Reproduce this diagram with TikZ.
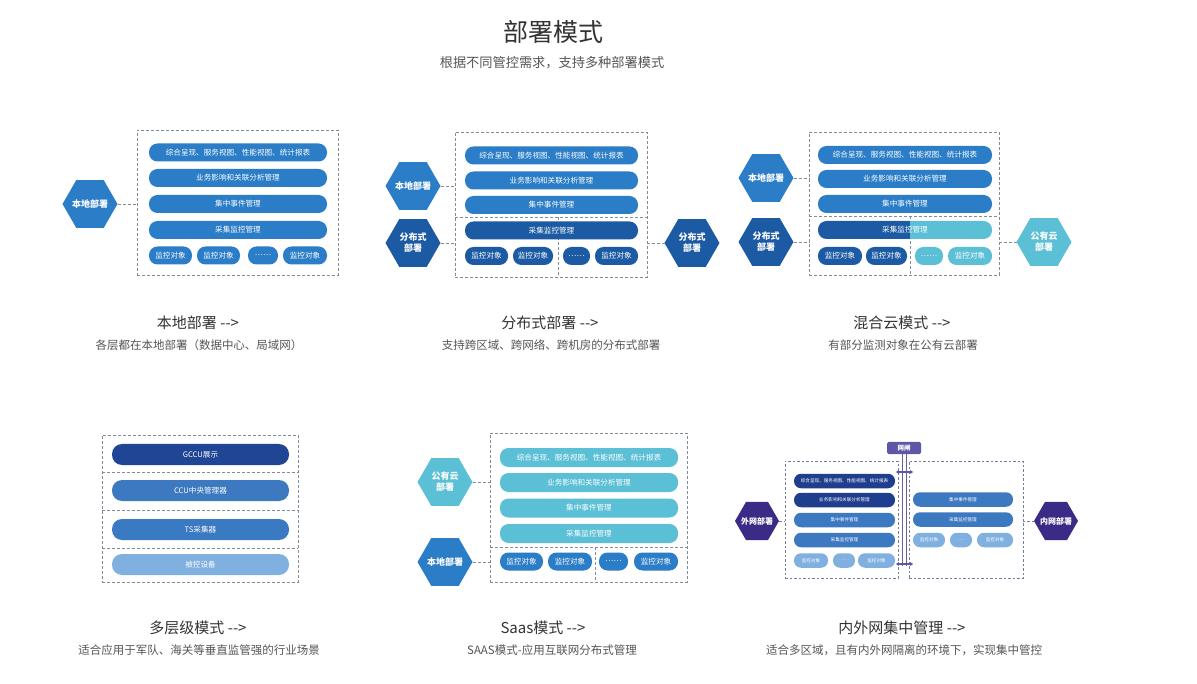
\documentclass[tikz,border=0pt]{standalone}
\usepackage{fontspec}
\setmainfont{Noto Sans CJK SC}
\usetikzlibrary{shapes.geometric,arrows.meta}
\definecolor{cblue}{HTML}{2A7DC6}
\definecolor{cdark}{HTML}{1C5AA3}
\definecolor{ccyan}{HTML}{5BBFD6}
\definecolor{cnavy}{HTML}{1F3F8E}
\definecolor{cmid}{HTML}{3C79C1}
\definecolor{clight}{HTML}{80B0E0}
\definecolor{cpurple}{HTML}{3B2A86}
\definecolor{cgate}{HTML}{5E57A8}
\definecolor{cdash}{HTML}{7F8C99}
\definecolor{cpdash}{HTML}{7A7A9A}
\definecolor{ctitle}{HTML}{333333}
\definecolor{csub}{HTML}{555555}
\tikzset{
  dbox/.style={draw=cdash, dash pattern=on 3pt off 2pt, line width=0.8pt, inner sep=0},
  dline/.style={draw=cdash, dash pattern=on 3pt off 2pt, line width=0.8pt},
  pbox/.style={draw=cpdash, dash pattern=on 2.5pt off 2pt, line width=0.7pt, inner sep=0},
  pline/.style={draw=cpdash, dash pattern=on 2.5pt off 2pt, line width=0.7pt},
  bar/.style={rectangle, rounded corners=8.5pt, inner sep=0, text=white, font=\fontsize{7.6}{8}\selectfont, minimum height=18},
  lbar/.style={rectangle, rounded corners=10pt, inner sep=0, text=white, font=\fontsize{7.6}{8}\selectfont, minimum height=21},
  sbar/.style={rectangle, rounded corners=7pt, inner sep=0, text=white, font=\fontsize{4.6}{5}\selectfont, minimum height=14.5},
  bartext/.style={inner sep=0, text=white, font=\fontsize{7.6}{8}\selectfont},
  hexa/.style={regular polygon, regular polygon sides=6, minimum size=55, inner sep=0, outer sep=0},
  hexlabel/.style={text=white, font=\bfseries\fontsize{9}{11}\selectfont, align=center, inner sep=0},
  shexa/.style={regular polygon, regular polygon sides=6, minimum size=44, inner sep=0, outer sep=0, fill=cpurple},
  shexlabel/.style={text=white, font=\bfseries\fontsize{8}{9}\selectfont, inner sep=0},
  captitle/.style={text=ctitle, font=\fontsize{15}{16}\selectfont, inner sep=0},
  capsub/.style={text=csub, font=\fontsize{11.5}{12}\selectfont, inner sep=0},
}
\begin{document}
\begin{tikzpicture}[x=1pt,y=-1pt]
\path[use as bounding box, fill=white] (0,0) rectangle (1197,684);

% Title
\node[text=ctitle, font=\fontsize{25}{27}\selectfont, inner sep=0] (title) at (553,32) {部署模式};
\node[text=csub, font=\fontsize{13.2}{14}\selectfont, inner sep=0] (subtitle) at (552,63) {根据不同管控需求，支持多种部署模式};

% ===== Panel 1: 本地部署 =====
\node[dbox, minimum width=201, minimum height=145] (p1box) at (237.5,202.5) {};
\node[bar, fill=cblue, minimum width=178] (p1b1) at (238,152.5) {综合呈现、服务视图、性能视图、统计报表};
\node[bar, fill=cblue, minimum width=178] (p1b2) at (238,178) {业务影响和关联分析管理};
\node[bar, fill=cblue, minimum width=178] (p1b3) at (238,204) {集中事件管理};
\node[bar, fill=cblue, minimum width=178] (p1b4) at (238,230) {采集监控管理};
\node[bar, fill=cblue, minimum width=43] (p1o1) at (170.5,255.5) {监控对象};
\node[bar, fill=cblue, minimum width=43] (p1o2) at (218.5,255.5) {监控对象};
\node[bar, fill=cblue, minimum width=30] (p1o3) at (263,255.5) {……};
\node[bar, fill=cblue, minimum width=44] (p1o4) at (305,255.5) {监控对象};
\node[hexa, fill=cblue, label={[hexlabel]center:本地部署}] (p1hex) at (90,204) {};
\draw[dline] (p1hex.east) -- (p1hex.east -| p1box.west);
\node[captitle] (c1t) at (198,323) {本地部署 -{}->};
\node[capsub] (c1s) at (199,345) {各层都在本地部署（数据中心、局域网）};

% ===== Panel 2: 分布式部署 =====
\node[dbox, minimum width=192, minimum height=145] (p2box) at (551,204.5) {};
\draw[dline] (455,217) -- (647,217);
\draw[dline] (558,217) -- (558,277);
\node[bar, fill=cblue, minimum width=173] (p2b1) at (551.5,155.5) {综合呈现、服务视图、性能视图、统计报表};
\node[bar, fill=cblue, minimum width=173] (p2b2) at (551.5,180.5) {业务影响和关联分析管理};
\node[bar, fill=cblue, minimum width=173] (p2b3) at (551.5,205) {集中事件管理};
\node[bar, fill=cdark, minimum width=173] (p2b4) at (551.5,230.5) {采集监控管理};
\node[bar, fill=cdark, minimum width=43] (p2o1) at (486.5,256) {监控对象};
\node[bar, fill=cdark, minimum width=40] (p2o2) at (533,256) {监控对象};
\node[bar, fill=cdark, minimum width=27] (p2o3) at (576.5,256) {……};
\node[bar, fill=cdark, minimum width=43] (p2o4) at (616.5,256) {监控对象};
\node[hexa, fill=cblue, label={[hexlabel]center:本地部署}] (p2h1) at (413,186) {};
\node[hexa, fill=cdark, label={[hexlabel]center:分布式\\部署}] (p2h2) at (413,243) {};
\node[hexa, fill=cdark, label={[hexlabel]center:分布式\\部署}] (p2h3) at (692,243) {};
\draw[dline] (p2h1.east) -- (p2h1.east -| p2box.west);
\draw[dline] (p2h2.east) -- (p2h2.east -| p2box.west);
\draw[dline] (p2h3.west) -- (p2h3.west -| p2box.east);
\node[captitle] (c2t) at (550,323) {分布式部署 -{}->};
\node[capsub] (c2s) at (551,345) {支持跨区域、跨网络、跨机房的分布式部署};

% ===== Panel 3: 混合云模式 =====
\node[dbox, minimum width=190, minimum height=143] (p3box) at (904,203.5) {};
\draw[dline] (809,216) -- (999,216);
\draw[dline] (910,216) -- (910,275);
\node[bar, fill=cblue, minimum width=174] (p3b1) at (905,155) {综合呈现、服务视图、性能视图、统计报表};
\node[bar, fill=cblue, minimum width=174] (p3b2) at (905,179) {业务影响和关联分析管理};
\node[bar, fill=cblue, minimum width=174] (p3b3) at (905,204) {集中事件管理};
\begin{scope}
  \clip (810,215) rectangle (910,245);
  \fill[cdark, rounded corners=8.5pt] (818,221) rectangle (992,239);
\end{scope}
\begin{scope}
  \clip (910,215) rectangle (1000,245);
  \fill[ccyan, rounded corners=8.5pt] (818,221) rectangle (992,239);
\end{scope}
\node[bartext] (p3b4) at (905,230) {采集监控管理};
\node[bar, fill=cdark, minimum width=44] (p3o1) at (840,256) {监控对象};
\node[bar, fill=cdark, minimum width=41] (p3o2) at (886.5,256) {监控对象};
\node[bar, fill=ccyan, minimum width=28] (p3o3) at (929,256) {……};
\node[bar, fill=ccyan, minimum width=44] (p3o4) at (970,256) {监控对象};
\node[hexa, fill=cblue, label={[hexlabel]center:本地部署}] (p3h1) at (766,178) {};
\node[hexa, fill=cdark, label={[hexlabel]center:分布式\\部署}] (p3h2) at (766,242) {};
\node[hexa, fill=ccyan, label={[hexlabel]center:公有云\\部署}] (p3h3) at (1044,242) {};
\draw[dline] (p3h1.east) -- (p3h1.east -| p3box.west);
\draw[dline] (p3h2.east) -- (p3h2.east -| p3box.west);
\draw[dline] (p3h3.west) -- (p3h3.west -| p3box.east);
\node[captitle] (c3t) at (902,323) {混合云模式 -{}->};
\node[capsub] (c3s) at (903,345) {有部分监测对象在公有云部署};

% ===== Panel 4: 多层级模式 =====
\node[dbox, minimum width=196, minimum height=147] (p4box) at (200,508.5) {};
\draw[dline] (102,472) -- (298,472);
\draw[dline] (102,510) -- (298,510);
\draw[dline] (102,548) -- (298,548);
\node[lbar, fill=cnavy!90!cblue, minimum width=177] (p4b1) at (200.5,454.5) {GCCU展示};
\node[lbar, fill=cmid, minimum width=177] (p4b2) at (200.5,490.5) {CCU中央管理器};
\node[lbar, fill=cmid!85!cblue, minimum width=177] (p4b3) at (200.5,529.5) {TS采集器};
\node[lbar, fill=clight, minimum width=177] (p4b4) at (200.5,564.5) {被控设备};
\node[captitle] (c4t) at (198,628) {多层级模式 -{}->};
\node[capsub] (c4s) at (199,650) {适合应用于军队、海关等垂直监管强的行业场景};

% ===== Panel 5: Saas模式 =====
\node[dbox, minimum width=197, minimum height=149] (p5box) at (588.5,507.5) {};
\draw[dline] (490,547) -- (687,547);
\draw[dline] (595,547) -- (595,582);
\node[bar, fill=ccyan, minimum width=178, minimum height=19] (p5b1) at (589,457.5) {综合呈现、服务视图、性能视图、统计报表};
\node[bar, fill=ccyan, minimum width=178, minimum height=19] (p5b2) at (589,482.5) {业务影响和关联分析管理};
\node[bar, fill=ccyan, minimum width=178, minimum height=19] (p5b3) at (589,508) {集中事件管理};
\node[bar, fill=ccyan, minimum width=178, minimum height=19] (p5b4) at (589,533.5) {采集监控管理};
\node[bar, fill=cblue, minimum width=43] (p5o1) at (521.5,561.5) {监控对象};
\node[bar, fill=cblue, minimum width=44] (p5o2) at (570,561.5) {监控对象};
\node[bar, fill=cblue, minimum width=29] (p5o3) at (613.5,561.5) {……};
\node[bar, fill=cblue, minimum width=44] (p5o4) at (656,561.5) {监控对象};
\node[hexa, fill=ccyan, label={[hexlabel]center:公有云\\部署}] (p5h1) at (445,482) {};
\node[hexa, fill=cblue, label={[hexlabel]center:本地部署}] (p5h2) at (445,562) {};
\draw[dline] (p5h1.east) -- (p5h1.east -| p5box.west);
\draw[dline] (p5h2.east) -- (p5h2.east -| p5box.west);
\node[captitle] (c5t) at (543,628) {Saas模式 -{}->};
\node[capsub] (c5s) at (552,650) {SAAS模式-应用互联网分布式管理};

% ===== Panel 6: 内外网集中管理 =====
\node[pbox, minimum width=113, minimum height=117] (p6lbox) at (841.5,519.5) {};
\node[pbox, minimum width=114, minimum height=117] (p6rbox) at (966,519.5) {};
\node[rectangle, rounded corners=1.5pt, fill=cgate, text=white, inner sep=0, minimum width=34, minimum height=12, font=\bfseries\fontsize{6.5}{7}\selectfont] (gate) at (904,448) {网闸};
\coordinate (gbot) at (904,566);
\draw[cgate!70!gray, line width=0.8pt] ([xshift=-2pt]gate.south) -- ([xshift=-2pt]gbot);
\draw[cgate!70!gray, line width=0.8pt] ([xshift=2pt]gate.south) -- ([xshift=2pt]gbot);
\draw[cgate, line width=1.6pt, {Stealth[length=3pt,width=4pt]}-{Stealth[length=3pt,width=4pt]}] (896,472) -- (913,472);
\draw[cgate, line width=1.6pt, {Stealth[length=3pt,width=4pt]}-{Stealth[length=3pt,width=4pt]}] (896,564) -- (913,564);
\node[sbar, fill=cnavy, minimum width=101] (p6l1) at (844.5,481) {综合呈现、服务视图、性能视图、统计报表};
\node[sbar, fill=cnavy, minimum width=101] (p6l2) at (844.5,500) {业务影响和关联分析管理};
\node[sbar, fill=cmid, minimum width=101] (p6l3) at (844.5,520) {集中事件管理};
\node[sbar, fill=cmid, minimum width=101] (p6l4) at (844.5,540) {采集监控管理};
\node[sbar, fill=clight, minimum width=34] (p6lo1) at (811,560.5) {监控对象};
\node[sbar, fill=clight, minimum width=22] (p6lo2) at (844,560.5) {……};
\node[sbar, fill=clight, minimum width=37] (p6lo3) at (876.5,560.5) {监控对象};
\node[sbar, fill=cmid, minimum width=100] (p6r1) at (963,499.5) {集中事件管理};
\node[sbar, fill=cmid, minimum width=100] (p6r2) at (963,519.5) {采集监控管理};
\node[sbar, fill=clight, minimum width=32] (p6ro1) at (929,540) {监控对象};
\node[sbar, fill=clight, minimum width=22] (p6ro2) at (961,540) {……};
\node[sbar, fill=clight, minimum width=36] (p6ro3) at (995,540) {监控对象};
\node[shexa, label={[shexlabel]center:外网部署}] (p6h1) at (757,521) {};
\node[shexa, label={[shexlabel]center:内网部署}] (p6h2) at (1056,521) {};
\draw[pline] (p6h1.east) -- (p6h1.east -| p6lbox.west);
\draw[pline] (p6h2.west) -- (p6h2.west -| p6rbox.east);
\node[captitle] (c6t) at (902,628) {内外网集中管理 -{}->};
\node[capsub] (c6s) at (904,650) {适合多区域，且有内外网隔离的环境下，实现集中管控};
\end{tikzpicture}
\end{document}
